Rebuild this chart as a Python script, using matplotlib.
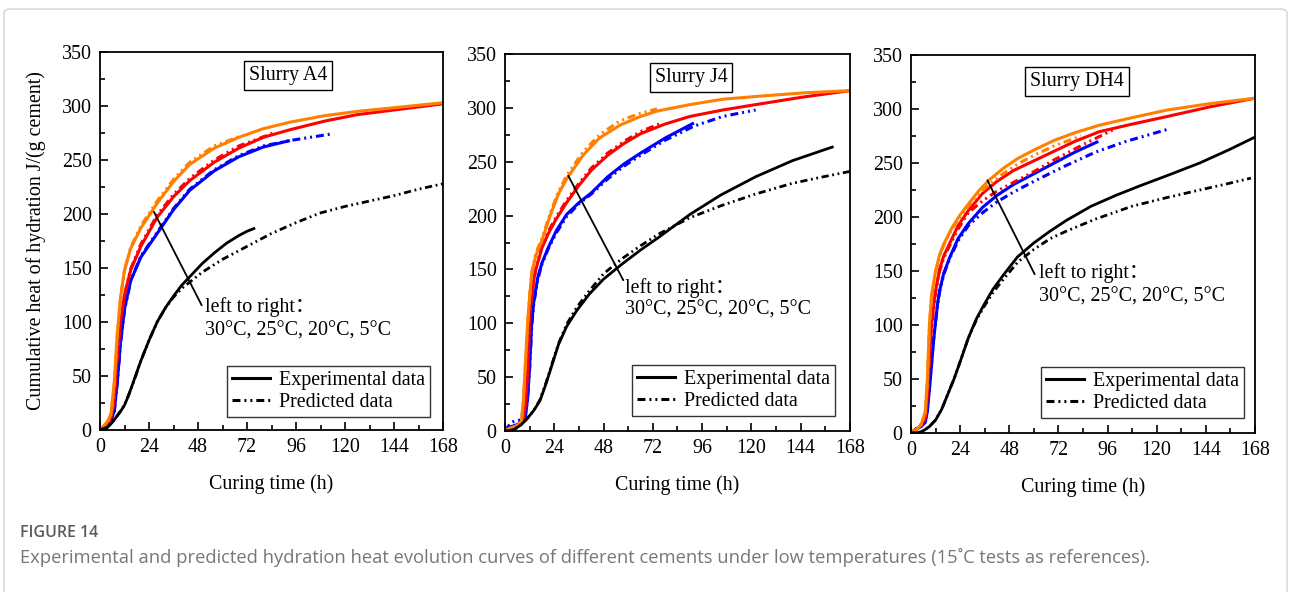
import numpy as np
import matplotlib.pyplot as plt
from matplotlib.lines import Line2D
from matplotlib.patches import FancyBboxPatch

# ---- Slurry A4 ----
a4_t30 = [0, 2, 4, 5.5, 7, 8.5, 10, 12, 15, 20, 28, 36, 44, 56, 68, 80, 93, 110, 126, 147, 168]
a4_exp30 = [0, 4, 9, 16, 45, 90, 122, 148, 168, 187, 210, 230, 246, 261, 271, 279, 285, 291, 295, 299, 303]
a4_pt30 = [0, 2, 4, 5.5, 7, 8.5, 10, 12, 15, 20, 28, 36, 44, 56, 70]
a4_pred30 = [0, 4, 8, 15, 42, 88, 121, 148, 169, 189, 212, 232, 248, 263, 273]

a4_t25 = [0, 2, 4, 5.5, 7, 8.5, 10, 12, 15, 20, 28, 36, 44, 56, 68, 80, 93, 110, 126, 147, 168]
a4_exp25 = [0, 3, 7, 12, 30, 70, 100, 125, 148, 170, 197, 216, 231, 248, 261, 271, 278, 286, 292, 297, 302]
a4_pt25 = [0, 2, 4, 5.5, 7, 8.5, 10, 12, 15, 20, 28, 36, 44, 56, 68, 85]
a4_pred25 = [0, 3, 6, 11, 28, 68, 99, 125, 149, 172, 199, 218, 233, 250, 263, 275]

a4_t20 = [0, 2, 4, 5.5, 7, 8.5, 10, 12, 15, 20, 28, 36, 44, 56, 68, 80, 93]
a4_exp20 = [0, 3, 6, 9, 18, 45, 80, 112, 138, 160, 182, 204, 222, 240, 253, 262, 268]
a4_pt20 = [0, 2, 4, 5.5, 7, 8.5, 10, 12, 15, 20, 28, 36, 44, 56, 68, 80, 93, 103, 113]
a4_pred20 = [0, 3, 6, 9, 17, 44, 79, 111, 138, 161, 183, 205, 223, 241, 254, 263, 268, 271, 274]

a4_t5 = [0, 2, 4, 6, 8, 10, 12, 14, 17, 20, 24, 28, 32, 36, 40, 44, 50, 56, 62, 68, 72, 76]
a4_exp5 = [0, 0, 3, 7, 12, 17, 23, 32, 48, 64, 83, 100, 113, 124, 134, 142, 154, 164, 173, 180, 184, 187]
a4_pt5 = [0, 4, 8, 12, 16, 20, 24, 28, 32, 36, 40, 44, 50, 60, 72, 84, 96, 108, 120, 132, 144, 156, 168]
a4_pred5 = [0, 3, 12, 23, 42, 64, 83, 100, 113, 123, 131, 137, 146, 158, 170, 182, 192, 201, 207, 212, 217, 223, 228]

# ---- Slurry J4 ----
j4_t30 = [0, 3, 6, 8, 9, 10, 11, 12, 13, 15, 18, 22, 26, 30, 38, 46, 56, 66, 74, 90, 106, 125, 146, 168]
j4_exp30 = [0, 3, 5, 9, 30, 65, 100, 125, 146, 163, 177, 200, 220, 234, 256, 272, 284, 292, 297, 303, 308, 311, 314, 316]
j4_pt30 = [0, 3, 6, 8, 9, 10, 11, 12, 13, 15, 18, 22, 26, 30, 38, 46, 56, 66, 74]
j4_pred30 = [0, 3, 5, 9, 28, 63, 99, 125, 147, 165, 179, 202, 222, 237, 259, 275, 288, 295, 299]

j4_t25 = [0, 3, 6, 8, 9, 10, 11, 12, 13, 14, 15, 18, 21, 25, 30, 36, 42, 50, 58, 66, 78, 90, 106, 122, 145, 168]
j4_exp25 = [0, 3, 5, 8, 12, 25, 55, 108, 125, 140, 150, 170, 183, 197, 212, 228, 242, 256, 267, 276, 285, 292, 298, 303, 310, 316]
j4_pt25 = [0, 3, 6, 8, 9, 10, 11, 12, 13, 14, 15, 18, 21, 25, 30, 36, 42, 50, 58, 66, 75]
j4_pred25 = [0, 3, 5, 8, 11, 23, 52, 105, 124, 140, 151, 172, 185, 199, 214, 230, 244, 258, 269, 278, 285]

j4_t20 = [0, 3, 6, 8, 9, 10, 11, 12, 13, 14, 16, 18, 21, 25, 30, 36, 42, 50, 58, 66, 78, 92]
j4_exp20 = [0, 4, 6, 8, 10, 14, 30, 60, 100, 120, 143, 156, 170, 186, 201, 212, 221, 236, 248, 258, 272, 286]
j4_pt20 = [0, 3, 6, 8, 9, 10, 11, 12, 13, 14, 16, 18, 21, 25, 30, 36, 42, 50, 58, 66, 78, 92, 106, 122]
j4_pred20 = [0, 8, 10, 10, 12, 16, 30, 58, 97, 118, 141, 155, 169, 184, 199, 211, 220, 234, 246, 256, 270, 283, 292, 298]

j4_t5 = [0, 2, 5, 8, 11, 14, 17, 20, 23, 26, 30, 35, 41, 48, 57, 66, 75, 90, 105, 122, 140, 160]
j4_exp5 = [0, 0, 2, 6, 12, 19, 28, 44, 62, 80, 97, 112, 127, 141, 155, 168, 180, 201, 219, 236, 251, 264]
j4_pt5 = [0, 2, 5, 8, 11, 14, 17, 20, 23, 26, 30, 35, 41, 48, 57, 66, 75, 90, 105, 122, 140, 155, 168]
j4_pred5 = [0, 0, 2, 6, 12, 19, 29, 45, 63, 81, 99, 115, 130, 146, 160, 172, 183, 198, 209, 220, 230, 236, 241]

# ---- Slurry DH4 ----
dh4_t30 = [0, 3, 5, 7, 8, 9, 10, 12, 14, 16, 20, 24, 28, 33, 38, 45, 52, 60, 70, 80, 92, 108, 125, 146, 168]
dh4_exp30 = [0, 4, 8, 20, 50, 100, 127, 150, 165, 175, 190, 202, 212, 224, 234, 245, 254, 262, 271, 278, 285, 292, 299, 305, 310]
dh4_pt30 = [0, 3, 5, 7, 8, 9, 10, 12, 14, 16, 20, 24, 28, 33, 38, 45, 52, 60, 70, 83]
dh4_pred30 = [0, 4, 8, 19, 48, 98, 125, 149, 164, 174, 189, 200, 210, 221, 230, 240, 249, 257, 266, 275]

dh4_t25 = [0, 3, 5, 7, 8, 9, 10, 11, 12, 14, 16, 19, 23, 28, 35, 42, 50, 60, 70, 80, 92, 108, 125, 146, 168]
dh4_exp25 = [0, 4, 7, 14, 35, 70, 100, 117, 132, 152, 164, 176, 192, 206, 222, 233, 243, 252, 261, 270, 279, 286, 293, 302, 310]
dh4_pt25 = [0, 3, 5, 7, 8, 9, 10, 11, 12, 14, 16, 19, 23, 28, 35, 42, 50, 60, 70, 84, 100]
dh4_pred25 = [0, 4, 7, 13, 33, 68, 98, 115, 130, 150, 162, 174, 189, 204, 215, 224, 232, 242, 253, 267, 282]

dh4_t20 = [0, 3, 5, 7, 8, 9, 10, 11, 12, 13, 14, 16, 19, 23, 28, 35, 42, 50, 60, 70, 80, 91.5]
dh4_exp20 = [0, 4, 6, 10, 20, 40, 62, 85, 103, 120, 132, 148, 163, 180, 194, 209, 220, 230, 240, 250, 260, 270]
dh4_pt20 = [0, 3, 5, 7, 8, 9, 10, 11, 12, 13, 14, 16, 19, 23, 28, 35, 42, 50, 60, 75, 90, 105, 125]
dh4_pred20 = [0, 5, 8, 14, 24, 44, 64, 86, 103, 119, 131, 147, 162, 178, 192, 204, 214, 223, 233, 247, 260, 270, 281]

dh4_t5 = [0, 3, 6, 9, 12, 15, 18, 21, 24, 28, 32, 36, 40, 45, 52, 60, 68, 76, 88, 100, 112, 126, 141, 155, 168]
dh4_exp5 = [0, 0, 2, 6, 12, 22, 36, 50, 66, 88, 106, 120, 133, 146, 163, 176, 187, 197, 210, 220, 229, 239, 250, 262, 274]
dh4_pt5 = [0, 3, 6, 9, 12, 15, 18, 21, 24, 28, 32, 36, 40, 45, 52, 60, 68, 76, 90, 108, 125, 141, 155, 166]
dh4_pred5 = [0, 0, 2, 6, 12, 22, 36, 50, 66, 88, 105, 118, 130, 142, 158, 170, 180, 187, 198, 210, 218, 225, 231, 236]

titles = ["Slurry A4", "Slurry J4", "Slurry DH4"]
x_ticks = [0, 24, 48, 72, 96, 120, 144, 168]
y_ticks = [0, 50, 100, 150, 200, 250, 300, 350]
note_line1 = "left to right\uff1a"
note_line2 = "30\u00b0C, 25\u00b0C, 20\u00b0C, 5\u00b0C"
caption_head = "FIGURE 14"
caption_text = ("Experimental and predicted hydration heat evolution curves of different "
                "cements under low temperatures (15\u02daC tests as references).")

colors = {30: "#FF7F00", 25: "#FF0000", 20: "#0000FF", 5: "#000000"}
dash_dd = (2.6, 1.3, 0.65, 1.3, 0.65, 1.3)

serif = ["Liberation Serif", "Noto Sans CJK SC"]
plt.rcParams["font.family"] = serif

panels = [
    {
        "curves": [(20, a4_t20, a4_exp20, a4_pt20, a4_pred20),
                   (25, a4_t25, a4_exp25, a4_pt25, a4_pred25),
                   (30, a4_t30, a4_exp30, a4_pt30, a4_pred30),
                   (5, a4_t5, a4_exp5, a4_pt5, a4_pred5)],
        "rect": [100, 52, 343, 378],
        "pointer": ((26.4, 202), (49.8, 115.5)),
        "note_xy": (51.2, 114, 92),
        "title_xy": (0.549, 0.939),
        "legend_xy": (0.962, 0.035),
    },
    {
        "curves": [(20, j4_t20, j4_exp20, j4_pt20, j4_pred20),
                   (25, j4_t25, j4_exp25, j4_pt25, j4_pred25),
                   (30, j4_t30, j4_exp30, j4_pt30, j4_pred30),
                   (5, j4_t5, j4_exp5, j4_pt5, j4_pred5)],
        "rect": [505, 54, 345, 377],
        "pointer": ((30.8, 237), (57.6, 140)),
        "note_xy": (58.3, 133, 112),
        "title_xy": (0.539, 0.937),
        "legend_xy": (0.957, 0.040),
    },
    {
        "curves": [(20, dh4_t20, dh4_exp20, dh4_pt20, dh4_pred20),
                   (25, dh4_t25, dh4_exp25, dh4_pt25, dh4_pred25),
                   (30, dh4_t30, dh4_exp30, dh4_pt30, dh4_pred30),
                   (5, dh4_t5, dh4_exp5, dh4_pt5, dh4_pred5)],
        "rect": [911, 55, 344, 378],
        "pointer": ((37.3, 234), (60.4, 147)),
        "note_xy": (62.3, 148, 126),
        "title_xy": (0.483, 0.931),
        "legend_xy": (0.967, 0.039),
    },
]

W, H = 1290, 592
fig = plt.figure(figsize=(W / 100, H / 100), dpi=100)

# light outer frame of the figure card
fig.patches.append(FancyBboxPatch((4 / W, -0.05), 1283 / W, (H - 9) / H + 0.05,
                                  boxstyle="round,pad=0,rounding_size=0.006",
                                  transform=fig.transFigure, facecolor="none",
                                  edgecolor="#d3d3d3", linewidth=1.0))

fs = 14.4
for i, p in enumerate(panels):
    x0, y0, w, h = p["rect"]
    ax = fig.add_axes([x0 / W, 1 - (y0 + h) / H, w / W, h / H])

    for temp, t, e, pt, pv in p["curves"]:
        lw = 2.2 if temp != 5 else 2.0
        ax.plot(t, e, color=colors[temp], lw=lw, solid_capstyle="butt")
        ax.plot(pt, pv, color=colors[temp], lw=lw, dashes=dash_dd)

    ax.set_xlim(0, 168)
    ax.set_ylim(0, 350)
    ax.set_xticks(x_ticks)
    ax.set_yticks(y_ticks)
    ax.set_xticks(np.arange(12, 168, 24), minor=True)
    ax.set_yticks(np.arange(25, 350, 50), minor=True)
    ax.tick_params(which="both", direction="in", top=False, right=False,
                   labelsize=fs, width=1.2)
    ax.tick_params(which="major", length=6, pad=6)
    ax.tick_params(which="minor", length=3.5)
    for s in ax.spines.values():
        s.set_linewidth(1.3)

    ax.set_xlabel("Curing time (h)", fontsize=fs, labelpad=12)
    if i == 0:
        ax.set_ylabel("Cumulative heat of hydration J/(g cement)", fontsize=fs, labelpad=11)

    ax.text(*p["title_xy"], titles[i], transform=ax.transAxes, ha="center", va="center",
            fontsize=fs, bbox=dict(boxstyle="square,pad=0.25", fc="white", ec="black", lw=1.0))

    # pointer line and the two-line note
    (hx, hy), (ex, ey) = p["pointer"]
    ax.annotate("", xy=(hx, hy), xytext=(ex, ey),
                arrowprops=dict(arrowstyle="-", color="black", lw=1.3, shrinkA=0, shrinkB=0))
    nx, ny1, ny2 = p["note_xy"]
    ax.text(nx, ny1, note_line1, fontsize=fs, ha="left", va="center")
    ax.text(nx, ny2, note_line2, fontsize=fs, ha="left", va="center")

    handles = [Line2D([], [], color="black", lw=2.2),
               Line2D([], [], color="black", lw=2.2, dashes=dash_dd)]
    leg = ax.legend(handles, ["Experimental data", "Predicted data"],
                    loc="lower right", bbox_to_anchor=p["legend_xy"], borderaxespad=0,
                    fontsize=fs, frameon=True, fancybox=False, handlelength=1.9,
                    handletextpad=0.45, labelspacing=0.15, borderpad=0.25)
    leg.get_frame().set_edgecolor("black")
    leg.get_frame().set_linewidth(1.0)

fig.text(20 / W, 1 - 533 / H, caption_head, fontsize=11.5, color="#5a5a5a",
         family=["Open Sans", "DejaVu Sans"], weight="semibold", va="center")
fig.text(20 / W, 1 - 557 / H, caption_text, fontsize=13.2, color="#777777",
         family=["Open Sans", "DejaVu Sans"], va="center")

fig.savefig("out.png", dpi=100)
